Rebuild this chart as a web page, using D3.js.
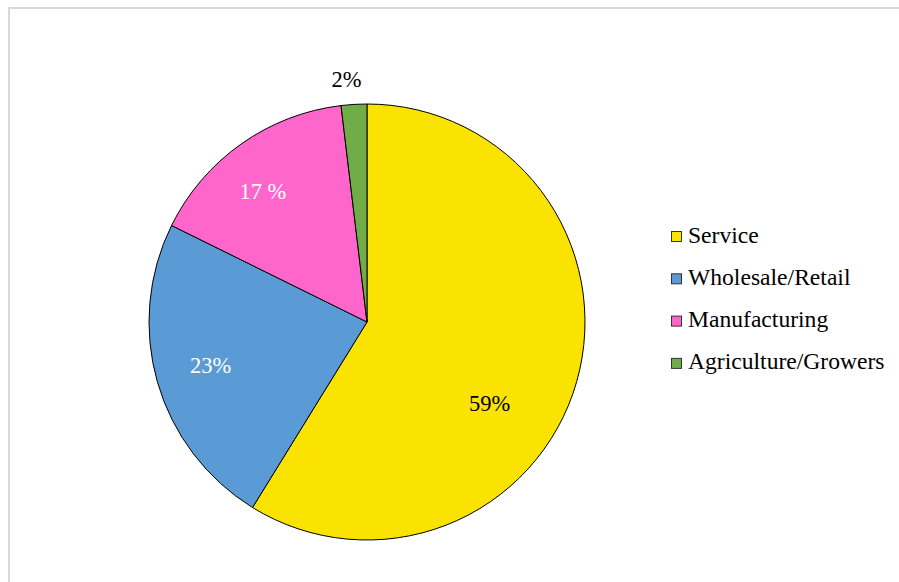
<!DOCTYPE html>
<html>
<head>
<meta charset="utf-8">
<script src="https://cdn.jsdelivr.net/npm/d3@7"></script>
<style>
  body { margin: 0; background: #fff; }
  svg { display: block; }
  text { font-family: "Liberation Serif", "Times New Roman", Times, "DejaVu Serif", serif; }
</style>
</head>
<body>
<svg id="chart"></svg>
<script>
const categories = ["Service", "Wholesale/Retail", "Manufacturing", "Agriculture/Growers"];
const shares = [58.8, 23.5, 15.8, 1.9];
const labels = ["59%", "23%", "17 %", "2%"];

const colors = ["#fae300", "#5b9bd5", "#ff66cc", "#70ad47"];
const labelColors = ["#000", "#fff", "#fff", "#000"];
// label radius (fraction of pie radius) and angle nudge in degrees, Excel-ish placement
const labelRadius = [0.675, 0.745, 0.764, 1.116];
const labelNudge = [17.8, 0.5, -3.4, -1.4];

const width = 899;
const height = 582;
const cx = 367, cy = 322, radius = 218;
const fontFamily = "'Liberation Serif', 'Times New Roman', Times, 'DejaVu Serif', serif";

const svg = d3.select("#chart")
    .attr("width", width)
    .attr("height", height);

// chart area border
svg.append("rect")
    .attr("x", 9)
    .attr("y", 8)
    .attr("width", 900)
    .attr("height", 600)
    .attr("fill", "none")
    .attr("stroke", "#d9d9d9")
    .attr("stroke-width", 2);

const data = categories.map((c, i) => ({ name: c, value: shares[i], i: i }));

const pie = d3.pie()
    .value(d => d.value)
    .sort(null);

const arc = d3.arc()
    .innerRadius(0)
    .outerRadius(radius);

const g = svg.append("g")
    .attr("transform", `translate(${cx}, ${cy})`);

const arcs = pie(data);

g.selectAll("path")
    .data(arcs)
    .enter().append("path")
    .attr("d", arc)
    .attr("fill", d => colors[d.data.i])
    .attr("stroke", "#000")
    .attr("stroke-width", 1);

g.selectAll("text")
    .data(arcs)
    .enter().append("text")
    .attr("transform", d => {
        const i = d.data.i;
        const a = (d.startAngle + d.endAngle) / 2 + labelNudge[i] * Math.PI / 180;
        const p = d3.pointRadial(a, radius * labelRadius[i]);
        return `translate(${p[0]}, ${p[1]})`;
    })
    .attr("text-anchor", "middle")
    .attr("dy", "0.33em")
    .attr("font-family", fontFamily)
    .attr("font-size", 22.5)
    .attr("fill", d => labelColors[d.data.i])
    .text(d => labels[d.data.i]);

// legend
const legend = svg.append("g")
    .attr("transform", "translate(671, 231)");

const item = legend.selectAll("g")
    .data(categories)
    .enter().append("g")
    .attr("transform", (d, i) => `translate(0, ${i * 42.3})`);

item.append("rect")
    .attr("x", 0.5)
    .attr("y", 0.5)
    .attr("width", 10)
    .attr("height", 10)
    .attr("fill", (d, i) => colors[i])
    .attr("stroke", "#333")
    .attr("stroke-width", 1);

item.append("text")
    .attr("x", 17)
    .attr("y", 11.5)
    .attr("font-family", fontFamily)
    .attr("font-size", 23.6)
    .attr("fill", "#000")
    .text(d => d);
</script>
</body>
</html>
